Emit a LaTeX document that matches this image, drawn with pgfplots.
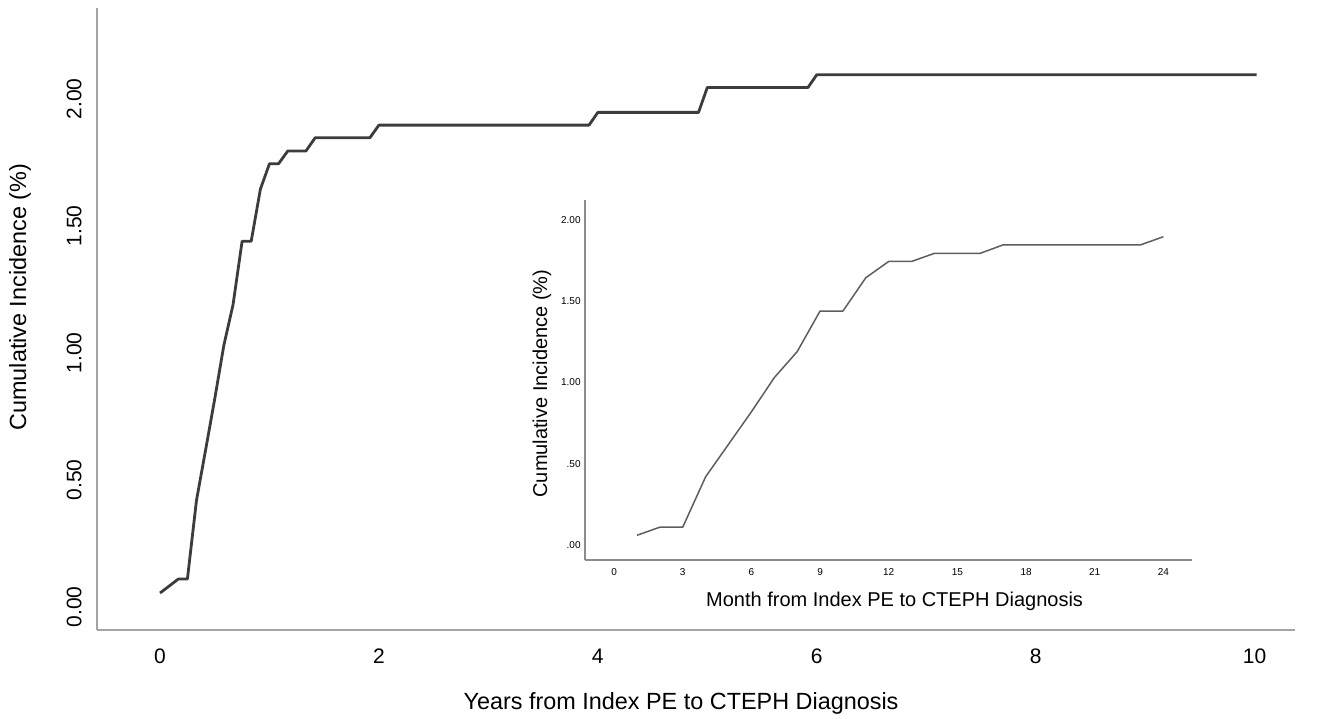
\documentclass[border=0pt]{standalone}
\usepackage{pgfplots}
\pgfplotsset{compat=1.18}
\usepackage{fontspec}
\setmainfont{Liberation Sans}

\definecolor{curve}{HTML}{3C3C3C}
\definecolor{axisgray}{HTML}{A4A4A4}
\definecolor{insetcurve}{HTML}{5E5E5E}
\definecolor{insetaxis}{HTML}{8C8C8C}

\begin{document}
\begin{tikzpicture}
\useasboundingbox (0,0) rectangle (663pt,359pt);

% main chart: years
\begin{axis}[
    at={(48.5pt,44pt)}, anchor=south west,
    scale only axis, width=599pt, height=311pt,
    xmin=-0.576, xmax=10.37, ymin=-0.0906, ymax=2.358,
    axis x line*=bottom, axis y line*=left,
    axis line style={axisgray, line width=1pt, -},
    major tick length=0pt,
    xtick={0,2,4,6,8,10},
    ytick={0,0.5,1,1.5,2},
    /pgf/number format/assume math mode=true,
    yticklabel={\pgfmathprintnumber[fixed,fixed zerofill,precision=2]{\tick}},
    ticklabel style={font=\fontsize{10.5}{12}\selectfont, inner sep=0pt},
    xticklabel style={anchor=north},
    xticklabel shift=9.3pt,
    yticklabel style={rotate=90, anchor=south},
    yticklabel shift=7.5pt,
    xlabel={Years from Index PE to CTEPH Diagnosis},
    ylabel={Cumulative Incidence (\%)},
    label style={font=\fontsize{11.7}{14}\selectfont},
    xlabel style={at={(axis description cs:0.4875,-0.1174)}, anchor=center},
    ylabel style={at={(axis description cs:-0.0643,0.535)}, anchor=center},
    clip=false,
]
\addplot[curve, line width=1.4pt, line join=round] coordinates {
    (0,0.055) (0.167,0.11) (0.25,0.11) (0.333,0.42) (0.417,0.62)
    (0.5,0.82) (0.583,1.03) (0.667,1.19) (0.75,1.44) (0.833,1.44)
    (0.917,1.645) (1.0,1.745) (1.083,1.745) (1.167,1.795) (1.333,1.795)
    (1.417,1.847) (1.917,1.847) (2.0,1.897) (3.92,1.897) (4.0,1.947)
    (4.92,1.947) (5.0,2.045) (5.92,2.045) (6.0,2.095) (10.02,2.095)
};
\end{axis}

% inset: first 24 months
\begin{axis}[
    at={(292.5pt,79pt)}, anchor=south west,
    scale only axis, width=303.5pt, height=180pt,
    xmin=-1.27, xmax=25.25, ymin=-0.092, ymax=2.123,
    axis x line*=bottom, axis y line*=left,
    axis line style={insetaxis, line width=0.7pt, -},
    major tick length=0pt,
    xtick={0,3,...,24},
    ytick={0,0.5,1,1.5,2},
    yticklabels={.00,.50,1.00,1.50,2.00},
    /pgf/number format/assume math mode=true,
    ticklabel style={font=\fontsize{5}{6}\selectfont, inner sep=0pt},
    xticklabel style={anchor=north},
    xticklabel shift=4.2pt,
    yticklabel style={anchor=east},
    yticklabel shift=2pt,
    xlabel={Month from Index PE to CTEPH Diagnosis},
    ylabel={Cumulative Incidence (\%)},
    label style={font=\fontsize{10}{12}\selectfont},
    xlabel style={at={(axis description cs:0.51,-0.114)}, anchor=center},
    ylabel style={at={(axis description cs:-0.071,0.49)}, anchor=center},
    clip=false,
]
\addplot[insetcurve, line width=0.75pt, line join=round] coordinates {
    (1,0.06) (2,0.11) (3,0.11) (4,0.42) (5,0.62) (6,0.82) (7,1.03)
    (8,1.19) (9,1.44) (10,1.44) (11,1.645) (12,1.745) (13,1.745)
    (14,1.795) (15,1.795) (16,1.795) (17,1.847) (18,1.847) (19,1.847)
    (20,1.847) (21,1.847) (22,1.847) (23,1.847) (24,1.897)
};
\end{axis}
\end{tikzpicture}
\end{document}
